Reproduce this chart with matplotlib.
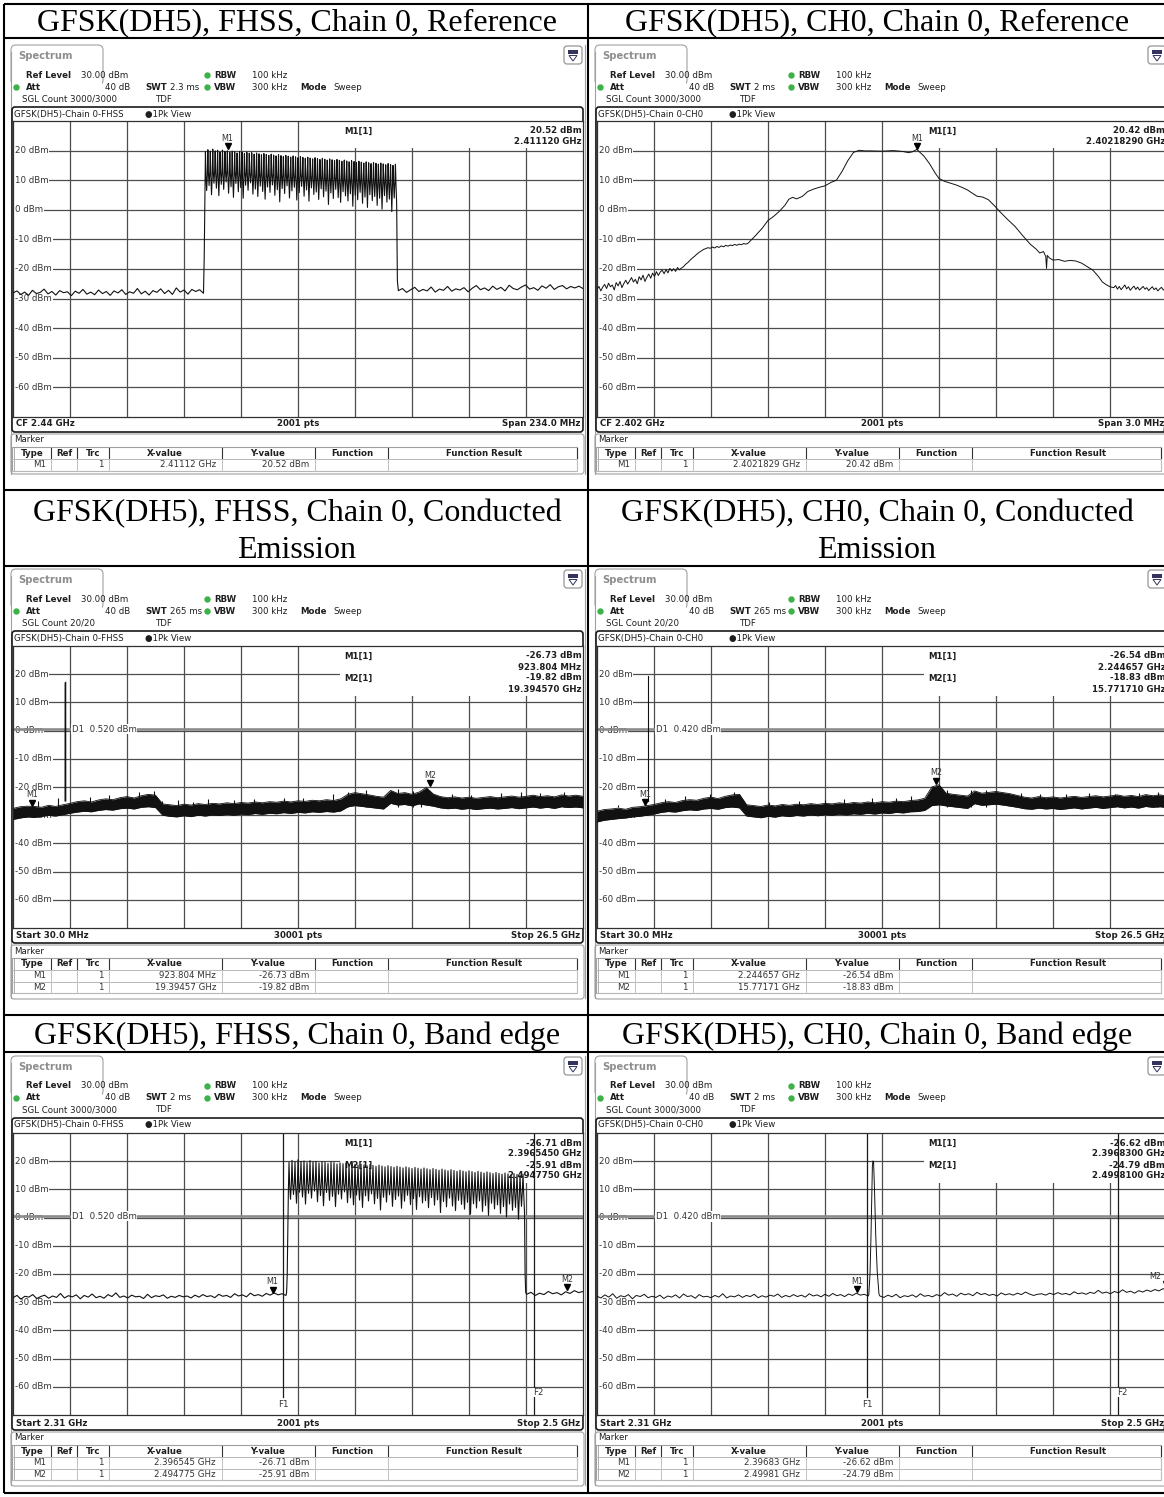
import numpy as np
import matplotlib
matplotlib.use("Agg")
import matplotlib.pyplot as plt
from matplotlib.patches import FancyBboxPatch, Rectangle, Polygon

# ------------------------------------------------------------------ data
row_titles = [
    [["GFSK(DH5), FHSS, Chain 0, Reference"], ["GFSK(DH5), CH0, Chain 0, Reference"]],
    [["GFSK(DH5), FHSS, Chain 0, Conducted", "Emission"],
     ["GFSK(DH5), CH0, Chain 0, Conducted", "Emission"]],
    [["GFSK(DH5), FHSS, Chain 0, Band edge"], ["GFSK(DH5), CH0, Chain 0, Band edge"]],
]
y_levels = [20, 10, 0, -10, -20, -30, -40, -50, -60]

# Bluetooth hopping channels (0..78) -> 2402 + k MHz
comb_channels = list(range(79))
comb_peak = [19.6, 20.3, 19.8, 20.5, 19.9, 20.1, 19.5, 20.2, 19.7, 19.9,
             19.4, 19.8, 19.6, 19.2, 19.7, 19.5, 19.0, 19.4, 19.1, 19.3,
             18.8, 19.2, 18.9, 18.6, 19.0, 18.7, 18.4, 18.8, 18.5, 18.2,
             18.6, 18.3, 18.0, 18.4, 18.1, 17.8, 18.2, 17.9, 17.6, 18.0,
             17.7, 17.4, 17.8, 17.5, 17.2, 17.6, 17.3, 17.0, 17.4, 17.1,
             16.8, 17.2, 16.9, 16.6, 17.0, 16.7, 16.4, 16.8, 16.5, 16.2,
             16.6, 16.3, 16.0, 16.4, 16.1, 15.8, 16.2, 15.9, 15.6, 16.0,
             15.7, 15.4, 15.8, 15.5, 15.2, 15.6, 15.3, 15.0, 15.4]
comb_trough = [6.5, 8.2, 5.1, 9.0, 7.3, 4.8, 8.6, 6.9, 9.4, 5.6,
               7.8, 4.2, 8.9, 6.1, 7.5, 3.9, 8.3, 6.6, 9.1, 5.3,
               7.0, 4.5, 8.0, 6.2, 3.6, 7.7, 5.9, 8.4, 4.9, 6.8,
               2.7, 7.2, 5.5, 8.1, 4.0, 6.4, 7.6, 3.3, 5.8, 7.9,
               4.6, 6.7, 2.9, 7.4, 5.2, 6.0, 3.5, 7.1, 4.4, 6.3,
               1.8, 5.7, 3.8, 6.9, 4.1, 2.5, 6.1, 4.7, 3.0, 5.4,
               1.2, 4.9, 3.4, 5.9, 2.2, 4.3, 0.8, 5.1, 3.1, 4.5,
               1.5, 3.9, 0.2, 4.8, 2.6, 3.6, -0.6, 4.0, 2.0]
# secondary in-channel dip level (the darker mass between ~10 and 20 dBm)
comb_mid = [11.8, 12.6, 11.2, 13.0, 12.1, 11.5, 12.8, 11.9, 13.2, 11.4,
            12.5, 11.0, 12.9, 11.7, 12.3, 10.8, 12.7, 11.6, 12.4, 11.1,
            12.0, 10.9, 12.2, 11.5, 10.6, 11.9, 11.3, 12.1, 10.7, 11.6,
            10.2, 11.8, 11.0, 12.0, 10.5, 11.4, 11.7, 10.3, 11.2, 11.9,
            10.6, 11.3, 10.0, 11.5, 10.8, 11.1, 10.1, 11.4, 10.4, 11.0,
            9.6, 10.9, 10.2, 11.2, 10.0, 9.5, 10.8, 10.1, 9.4, 10.5,
            9.1, 10.3, 9.6, 10.6, 9.2, 9.9, 8.8, 10.2, 9.3, 9.8,
            8.9, 9.6, 8.5, 9.9, 9.0, 9.4, 8.3, 9.5, 8.8]

# Panel 1: FHSS reference (GHz, dBm)
p1_noise_left = [-28.1, -27.4, -28.6, -27.8, -28.9, -27.2, -28.3, -27.9, -26.8, -28.4,
                 -27.6, -28.8, -27.3, -28.0, -27.7, -29.0, -27.5, -28.2, -26.9, -28.5,
                 -27.8, -28.7, -27.1, -28.3, -27.6, -28.9, -27.4, -28.1, -27.0, -28.6,
                 -27.7, -28.2, -26.6, -28.4, -27.5, -28.8, -27.3, -27.9, -26.7, -28.3,
                 -27.2, -28.6, -26.4, -27.8, -27.1, -28.5, -26.9, -27.6, -27.0, -28.2]
p1_noise_right = [-27.3, -26.6, -27.9, -27.0, -26.2, -27.6, -26.9, -27.4, -26.1, -27.8,
                  -26.8, -27.2, -25.9, -27.5, -26.7, -27.1, -26.3, -27.7, -26.5, -25.6,
                  -27.0, -26.4, -27.3, -25.8, -26.9, -26.2, -27.4, -25.5, -26.6, -27.0,
                  -26.1, -25.4, -26.8, -26.3, -27.2, -25.7, -26.5, -25.3, -26.9, -26.0,
                  -25.6, -26.7, -25.9, -26.4, -25.8, -26.6]
p1_rise_f, p1_rise_dbm = [2.4015, 2.4018], [-16.0, 6.0]
p1_fall_f, p1_fall_dbm = [2.4808], [-24.0]

# Panel 2: CH0 reference (MHz, dBm)
p2_noise_left = [-26.8, -25.9, -27.4, -26.1, -25.2, -26.6, -24.8, -26.0, -25.4, -27.1,
                 -24.6, -25.7, -24.2, -26.3, -24.9, -23.8, -25.1, -24.0, -22.9, -24.4,
                 -23.5, -25.0, -22.6, -23.7, -22.1, -24.2, -22.8, -21.7, -23.1, -21.4,
                 -22.5, -20.9, -22.2, -21.0, -20.4, -21.6, -20.2, -21.3, -19.8, -20.7,
                 -19.9, -20.8, -19.5, -20.3, -19.7]
p2_ramp = [-19.2, -18.4, -17.8, -17.0, -16.3, -15.7, -15.0, -14.4, -13.9, -13.4,
           -13.1, -12.8, -13.0, -12.6, -12.9, -12.4, -12.7, -12.2, -12.5, -12.0,
           -12.3, -11.9, -12.1, -11.7, -12.0, -11.6, -11.8, -11.4, -11.6, -11.3]
p2_lobe_mhz = [2401.31, 2401.33, 2401.37, 2401.40, 2401.43, 2401.46, 2401.49, 2401.51,
               2401.53, 2401.55, 2401.58, 2401.61, 2401.64, 2401.67, 2401.70, 2401.73,
               2401.76, 2401.79, 2401.82, 2401.85, 2401.88, 2401.91, 2401.94, 2402.00,
               2402.06, 2402.11, 2402.14, 2402.16, 2402.183, 2402.20, 2402.22, 2402.25,
               2402.28, 2402.30, 2402.33, 2402.36, 2402.39, 2402.42, 2402.45, 2402.48,
               2402.50, 2402.53, 2402.56, 2402.59, 2402.62, 2402.66, 2402.70, 2402.74,
               2402.78, 2402.81, 2402.83, 2402.85, 2402.862, 2402.866, 2402.87, 2402.88,
               2402.90, 2402.93, 2402.96, 2402.99, 2403.02, 2403.05, 2403.08, 2403.11,
               2403.14, 2403.16, 2403.18, 2403.20]
p2_lobe_dbm = [-10.3, -9.0, -6.2, -3.6, -2.2, -0.5, 1.6, 3.6, 4.2, 3.7, 4.5, 6.2, 7.0, 7.6,
               8.1, 9.2, 10.0, 13.0, 16.6, 19.4, 20.1, 19.9, 19.9, 19.8, 20.0, 19.7, 19.3,
               19.6, 20.4, 19.4, 18.2, 15.6, 12.4, 10.6, 9.6, 9.0, 8.4, 7.6, 6.7, 5.4, 4.6,
               4.3, 3.4, 1.5, -0.6, -3.2, -5.6, -8.7, -11.6, -13.2, -14.6, -14.1, -15.8,
               -19.8, -15.4, -16.2, -17.0, -16.8, -17.4, -17.1, -17.3, -18.0, -19.2, -20.4,
               -22.6, -24.4, -25.3, -26.0]
p2_noise_right = [-26.3, -25.6, -26.8, -25.9, -27.0, -26.2, -25.4, -26.7, -26.0, -27.2,
                  -26.4, -25.8, -26.9, -26.1, -27.1, -26.5, -25.9, -26.8, -26.3, -27.3,
                  -26.6, -26.0, -27.0, -26.4, -27.4, -26.7, -26.2, -27.1, -26.6, -27.3]

# Panel 3: FHSS conducted emission (GHz, dBm) - noise band envelopes
p3_upper = [-27.6, -27.0, -26.8, -26.9, -27.2, -26.5, -26.9, -26.3,
            -25.8,
            -25.2, -24.9, -25.3, -24.6, -24.2, -24.5, -23.8, -23.4, -23.9, -23.1, -22.6, -22.9,
            -26.0,
            -26.3, -26.6, -26.1, -26.4, -25.9, -26.2, -25.8, -26.0, -25.6, -25.9, -25.5, -25.7,
            -25.3, -25.6, -25.2, -25.4, -25.0, -25.3, -24.9, -25.1, -24.7, -24.9, -24.5, -24.8, -24.2,
            -22.6, -22.0, -22.4, -22.8, -23.3, -23.6,
            -21.2, -22.3, -22.0, -22.6, -21.8, -20.2,
            -22.5, -23.4, -23.8, -23.5, -23.9, -23.6, -24.0, -23.7, -23.4, -23.8, -23.5,
            -23.2, -23.6, -23.3, -22.9, -23.4, -23.1, -23.5, -22.8, -23.2, -22.9, -23.3]
p3_lower = [-31.5, -31.0, -30.6, -30.8, -30.4, -30.1, -30.3, -29.8,
            -29.3,
            -28.9, -28.6, -28.8, -28.3, -28.0, -28.2, -27.7, -27.5, -27.8, -27.2, -27.0, -27.3,
            -30.0,
            -30.4, -30.6, -30.2, -30.5, -30.0, -30.3, -29.9, -30.1, -29.7, -30.0, -29.6, -29.8,
            -29.4, -29.7, -29.3, -29.5, -29.1, -29.4, -29.0, -29.2, -28.8, -29.0, -28.7, -28.9, -28.5,
            -27.0, -26.6, -26.9, -27.2, -27.5, -27.8,
            -25.8, -26.4, -26.2, -26.7, -26.0, -26.4,
            -26.8, -27.4, -27.7, -27.5, -27.9, -27.6, -28.0, -27.7, -27.5, -27.8, -27.6,
            -27.3, -27.7, -27.4, -27.1, -27.5, -27.2, -27.6, -27.0, -27.3, -27.1, -27.4]
p3_spike_f = [1.2, 2.1, 3.6, 4.5, 5.9, 6.6, 6.95, 7.7, 8.4, 9.1, 10.3, 11.2, 12.6, 13.5,
              14.9, 15.6, 16.4, 17.9, 18.6, 19.0, 20.4, 21.3, 22.7, 23.6, 24.5, 25.6]
p3_spike_dbm = [-24.9, -24.0, -23.6, -22.9, -21.8, -21.3, -24.9, -24.6, -25.3, -24.4,
                -24.7, -24.2, -23.8, -23.9, -22.5, -21.6, -21.0, -20.6, -21.4, -21.8,
                -22.6, -22.9, -22.1, -21.9, -22.3, -21.8]
p3_hop_f = [2.398, 2.402, 2.480, 2.484]
p3_hop_dbm = [-25.0, 17.2, 17.6, -25.0]

# Panel 4: CH0 conducted emission
p4_upper = [-28.6, -28.0, -27.8, -27.5, -27.9, -27.2, -27.0, -26.6,
            -26.2,
            -25.6, -25.2, -25.5, -24.8, -24.5, -24.7, -24.0, -23.6, -24.1, -23.3, -22.8, -22.6,
            -26.3,
            -26.6, -26.9, -26.4, -26.7, -26.2, -26.5, -26.1, -26.3, -25.9, -26.2, -25.8, -26.0,
            -25.6, -25.9, -25.5, -25.7, -25.3, -25.6, -25.2, -25.4, -25.0, -25.2, -24.8, -24.6, -24.0,
            -20.0, -19.2, -22.2, -22.6, -22.9, -23.2,
            -21.4, -22.2, -21.9, -21.6, -22.0, -22.4,
            -23.0, -23.6, -23.9, -23.4, -23.8, -23.5, -23.9, -23.6, -23.3, -23.7, -23.4,
            -23.1, -23.5, -23.2, -22.8, -23.3, -23.0, -23.4, -22.7, -23.1, -22.8, -23.2]
p4_lower = [-32.4, -31.8, -31.5, -31.2, -31.0, -30.6, -30.4, -30.0,
            -29.6,
            -29.0, -28.7, -28.9, -28.4, -28.1, -28.3, -27.8, -27.6, -27.9, -27.3, -27.1, -27.4,
            -30.3,
            -30.6, -30.9, -30.4, -30.7, -30.2, -30.5, -30.1, -30.3, -29.9, -30.2, -29.8, -30.0,
            -29.6, -29.9, -29.5, -29.7, -29.3, -29.6, -29.2, -29.4, -29.0, -29.2, -28.8, -28.7, -28.3,
            -26.6, -26.3, -26.7, -27.0, -27.3, -27.6,
            -25.9, -26.5, -26.3, -26.1, -26.4, -26.8,
            -27.2, -27.7, -27.9, -27.5, -27.8, -27.6, -28.0, -27.7, -27.4, -27.8, -27.5,
            -27.2, -27.6, -27.3, -27.0, -27.4, -27.1, -27.5, -26.9, -27.2, -27.0, -27.3]
p4_spike_f = [1.0, 3.2, 4.1, 5.3, 6.4, 6.8, 8.0, 9.4, 10.6, 11.5, 12.8, 13.9, 14.6, 16.3,
              17.4, 18.1, 19.7, 20.6, 21.8, 22.9, 24.1, 25.2, 26.1]
p4_spike_dbm = [-26.5, -24.2, -23.3, -22.6, -21.9, -24.6, -25.4, -24.9, -24.5, -24.1,
                -24.0, -23.8, -23.3, -21.2, -21.0, -20.9, -22.0, -22.5, -22.4, -22.2,
                -22.6, -22.0, -21.9]
p4_carrier_f = 2.402
p4_carrier_dbm = 19.5

# Panel 5: FHSS band edge
p5_noise_left = [-28.4, -27.6, -28.9, -27.9, -28.2, -27.3, -28.7, -28.0, -27.5, -28.6,
                 -27.8, -28.3, -26.9, -28.5, -27.7, -28.1, -27.4, -28.8, -27.6, -28.2,
                 -27.1, -28.4, -27.9, -28.6, -27.3, -28.0, -26.7, -28.3, -27.8, -28.5,
                 -27.5, -28.1, -27.9, -28.7, -27.2, -28.4, -27.7, -28.0, -27.4, -28.6,
                 -27.9, -28.3, -27.6, -28.1, -27.8, -28.5, -27.5, -28.2, -27.3, -28.0,
                 -27.7, -28.4, -27.2, -27.9, -27.6, -28.3, -27.0, -27.8, -27.4, -28.1,
                 -26.8, -27.7, -27.3, -27.9, -26.9, -27.5, -26.7, -27.4, -27.0, -27.6]
p5_noise_right = [-27.2, -26.5, -27.6, -26.8, -27.3, -26.2, -27.0, -26.6, -27.4, -26.3,
                  -26.9, -25.9, -26.6, -26.2]
p5_rise_f, p5_rise_dbm = [2.4012, 2.4014, 2.4018], [-26.5, -20.5, 10.0]
p5_fall_f, p5_fall_dbm = [2.4807, 2.4809], [-20.0, -26.5]

# Panel 6: CH0 band edge
p6_noise_left = [-27.9, -28.5, -27.4, -28.2, -27.0, -28.6, -27.7, -28.1, -27.3, -28.8,
                 -27.6, -28.0, -27.2, -28.4, -27.9, -28.3, -27.5, -28.7, -27.8, -28.2,
                 -27.4, -28.5, -27.1, -28.0, -27.7, -28.6, -27.3, -28.1, -27.9, -28.4,
                 -27.6, -28.2, -27.0, -28.5, -27.8, -28.1, -27.4, -28.3, -27.6, -28.0,
                 -27.2, -28.4, -27.7, -28.2, -27.5, -27.9, -27.1, -28.3, -27.6, -28.1,
                 -27.3, -28.0, -27.5, -28.2, -27.0, -27.8, -27.4, -28.1, -27.2, -27.9,
                 -26.9, -27.7, -27.3, -28.0, -27.1, -27.6, -26.8, -27.5, -27.2, -27.8]
p6_spike_f = [2.4006, 2.4010, 2.4013, 2.4016, 2.4018, 2.4020, 2.4022, 2.4025, 2.4029, 2.4034, 2.4040]
p6_spike_dbm = [-27.4, -20.0, -8.0, 8.0, 18.5, 20.1, 19.5, 10.0, -6.0, -19.0, -27.2]
p6_noise_right = [-27.8, -28.3, -27.5, -28.1, -27.2, -28.4, -27.7, -28.0, -27.4, -28.2,
                  -27.0, -27.9, -27.6, -28.1, -27.3, -27.8, -26.6, -27.5, -27.1, -27.9,
                  -26.8, -27.4, -27.0, -27.7, -26.5, -27.3, -26.9, -27.6, -27.2, -27.8,
                  -26.7, -27.4, -27.0, -27.5, -26.8, -27.3, -26.4, -27.1, -27.6, -27.2,
                  -27.0, -27.5, -26.8, -27.3, -26.6, -27.2, -26.9, -27.4, -26.3, -27.0,
                  -26.7, -27.2, -26.5, -26.9, -25.8, -26.8, -26.4, -27.0, -26.2, -26.7,
                  -25.6, -26.5, -26.1, -26.8, -25.9, -26.4, -25.7, -26.2, -25.5, -26.0,
                  -25.2, -25.8]

# markers (x, dBm) and their text
p1_markers = [(2.41112, 20.52)]
p2_markers = [(2402.1829, 20.42)]
p3_markers = [(0.923804, -26.73), (19.39457, -19.82)]
p4_markers = [(2.244657, -26.54), (15.77171, -18.83)]
p5_markers = [(2.396545, -26.71), (2.494775, -25.91)]
p6_markers = [(2.39683, -26.62), (2.49981, -24.79)]
p1_info = [("20.52 dBm", "2.411120 GHz")]
p2_info = [("20.42 dBm", "2.40218290 GHz")]
p3_info = [("-26.73 dBm", "923.804 MHz"), ("-19.82 dBm", "19.394570 GHz")]
p4_info = [("-26.54 dBm", "2.244657 GHz"), ("-18.83 dBm", "15.771710 GHz")]
p5_info = [("-26.71 dBm", "2.3965450 GHz"), ("-25.91 dBm", "2.4947750 GHz")]
p6_info = [("-26.62 dBm", "2.3968300 GHz"), ("-24.79 dBm", "2.4998100 GHz")]
p1_table = [("M1", "2.41112 GHz", "20.52 dBm")]
p2_table = [("M1", "2.4021829 GHz", "20.42 dBm")]
p3_table = [("M1", "923.804 MHz", "-26.73 dBm"), ("M2", "19.39457 GHz", "-19.82 dBm")]
p4_table = [("M1", "2.244657 GHz", "-26.54 dBm"), ("M2", "15.77171 GHz", "-18.83 dBm")]
p5_table = [("M1", "2.396545 GHz", "-26.71 dBm"), ("M2", "2.494775 GHz", "-25.91 dBm")]
p6_table = [("M1", "2.39683 GHz", "-26.62 dBm"), ("M2", "2.49981 GHz", "-24.79 dBm")]
d1_levels = {"p3": 0.520, "p4": 0.420, "p5": 0.520, "p6": 0.420}
f_lines = [2.4, 2.4835]

# ------------------------------------------------------------------ figure
W, H = 1164, 1497
fig = plt.figure(figsize=(W / 100, H / 100), dpi=100)
bg = fig.add_axes([0, 0, 1, 1])
bg.set_xlim(0, W)
bg.set_ylim(H, 0)
bg.axis('off')

SANS = 'DejaVu Sans'
FS = 6.2
GRAY = '#a0a0a0'
GREEN = '#3db24a'
INK = '#1e1e1e'


def t(x, y, s, bold=False, ha='left', color=INK, fs=FS, z=5):
    bg.text(x, y, s, ha=ha, va='center', fontsize=fs, family=SANS,
            fontweight='bold' if bold else 'normal', color=color, zorder=z)


# table lines
TL = 1.5
for yy in [4, 38, 490, 566, 1015, 1052, 1493]:
    bg.plot([4, W], [yy, yy], color='black', lw=TL, solid_capstyle='butt', zorder=10)
for xx in [4, 588]:
    bg.plot([xx, xx], [4, 1493], color='black', lw=TL, solid_capstyle='butt', zorder=10)

title_line_y = [[23], [514, 550], [1036]]
for r in range(3):
    for c, cx in enumerate([297, 877]):
        for line, ty in zip(row_titles[r][c], title_line_y[r]):
            bg.text(cx, ty, line, ha='center', va='center',
                    fontsize=23, family='Liberation Serif', color='black', zorder=10)


def comb_trace(f0):
    fx, fy = [], []
    for k in comb_channels:
        fc = f0 + 0.001 * k
        fx += [fc, fc + 0.00022, fc + 0.0005, fc + 0.00078]
        fy += [comb_peak[k], comb_mid[k], comb_trough[k], comb_mid[k]]
    return fx[:-1], fy[:-1]


def draw_panel(x0, y0, compact, cfg):
    PW = 578
    gx0, gx1 = x0 + 5, x0 + 575
    if compact:
        gy0, gy1 = y0 + 80, y0 + 362
        lab_y, tb_bot, mk_top, mk_bot = y0 + 370, y0 + 377, y0 + 379, y0 + 433
    else:
        gy0, gy1 = y0 + 79, y0 + 375
        lab_y, tb_bot, mk_top, mk_bot = y0 + 382, y0 + 390, y0 + 392, y0 + 432
    GW, GH = gx1 - gx0, gy1 - gy0

    # outer frame + tab
    tab = FancyBboxPatch((x0 + 3, y0 + 3), 92, 40, boxstyle='round,pad=0,rounding_size=5',
                         fc='white', ec=GRAY, lw=0.8, zorder=1)
    bg.add_patch(tab)
    bg.add_patch(Rectangle((x0 + 3.6, y0 + 25), 90.8, 20, fc='white', ec='none', zorder=1.1))
    bg.plot([x0 + 3, x0 + 3], [y0 + 10, y0 + 432], color=GRAY, lw=0.8, zorder=1.2)
    bg.plot([x0 + PW - 1, x0 + PW - 1], [y0 + 3, y0 + 432], color=GRAY, lw=0.8, zorder=1.2)
    t(x0 + 10, y0 + 14, "Spectrum", bold=True, color='#8e8e8e', fs=7.2)
    # icon
    bg.add_patch(FancyBboxPatch((x0 + PW - 22, y0 + 4), 18, 18,
                                boxstyle='round,pad=0,rounding_size=3',
                                fc='white', ec='#8a8a8a', lw=0.8, zorder=2))
    bg.add_patch(Rectangle((x0 + PW - 18, y0 + 7.5), 10, 4, fc='#33335e', ec='none', zorder=3))
    bg.add_patch(Polygon([(x0 + PW - 17, y0 + 13.5), (x0 + PW - 9, y0 + 13.5),
                          (x0 + PW - 13, y0 + 19)], closed=True, fc='none',
                         ec='#33335e', lw=0.7, zorder=3))

    # header
    t(x0 + 18, y0 + 33, "Ref Level", bold=True)
    t(x0 + 73, y0 + 33, "30.00 dBm")
    bg.plot([x0 + 199], [y0 + 33], 'o', ms=3.6, color=GREEN, zorder=5)
    t(x0 + 206, y0 + 33, "RBW", bold=True)
    t(x0 + 244, y0 + 33, "100 kHz")
    bg.plot([x0 + 8], [y0 + 45], 'o', ms=3.6, color=GREEN, zorder=5)
    t(x0 + 18, y0 + 45, "Att", bold=True)
    t(x0 + 122, y0 + 45, "40 dB", ha='right')
    t(x0 + 137, y0 + 45, "SWT", bold=True)
    t(x0 + 162, y0 + 45, cfg['swt'])
    bg.plot([x0 + 199], [y0 + 45], 'o', ms=3.6, color=GREEN, zorder=5)
    t(x0 + 206, y0 + 45, "VBW", bold=True)
    t(x0 + 244, y0 + 45, "300 kHz")
    t(x0 + 292, y0 + 45, "Mode", bold=True)
    t(x0 + 325, y0 + 45, "Sweep")
    t(x0 + 14, y0 + 57, "SGL Count " + cfg['count'])
    t(x0 + 148, y0 + 57, "TDF")

    # trace box
    bg.add_patch(FancyBboxPatch((x0 + 4, y0 + 65), PW - 7, tb_bot - (y0 + 65),
                                boxstyle='round,pad=0,rounding_size=3',
                                fc='none', ec='#1a1a1a', lw=1.2, zorder=2))
    t(x0 + 6, y0 + 72, cfg['trace_title'])
    t(x0 + 137, y0 + 72, "\u25cf1Pk View")
    t(x0 + 8, lab_y, cfg['left_lab'], bold=True)
    t(x0 + 290, lab_y, cfg['pts'], bold=True, ha='center')
    t(x0 + 572, lab_y, cfg['right_lab'], bold=True, ha='right')

    # marker box + table
    bg.add_patch(FancyBboxPatch((x0 + 3, mk_top), PW - 5, mk_bot - mk_top,
                                boxstyle='round,pad=0,rounding_size=3',
                                fc='none', ec=GRAY, lw=0.8, zorder=2))
    t(x0 + 6, mk_top + 6, "Marker")
    th0 = mk_top + 13
    rh = 11.5
    rows = cfg['table']
    tb_end = th0 + 12 + rh * len(rows)
    cols = [4, 43, 69, 101, 214, 307, 380, 569]
    bg.add_patch(Rectangle((x0 + 4, th0), 565, tb_end - th0, fc='none', ec=GRAY, lw=0.8, zorder=3))
    bg.plot([x0 + 5.5, x0 + 5.5], [th0, tb_end], color=GRAY, lw=0.6, zorder=3)
    for i in range(len(rows) + 1):
        yy = th0 + 12 + rh * i
        bg.plot([x0 + 4, x0 + 569], [yy, yy], color='#b8b8b8', lw=0.7, zorder=3)
    for cx in cols[1:]:
        bg.plot([x0 + cx, x0 + cx], [th0 + 1, th0 + 11], color='#333333', lw=0.8, zorder=3)
        bg.plot([x0 + cx, x0 + cx], [th0 + 12, tb_end], color='#c0c0c0', lw=0.7, zorder=3)
    for hx, hs in zip([24, 56, 85, 157, 260, 344, 476],
                      ["Type", "Ref", "Trc", "X-value", "Y-value", "Function", "Function Result"]):
        t(x0 + hx, th0 + 6, hs, bold=True, ha='center')
    for i, (name, xv, yv) in enumerate(rows):
        yy = th0 + 12 + rh * i + rh / 2
        t(x0 + 38, yy, name, ha='right', color='#333333')
        t(x0 + 96, yy, "1", ha='right', color='#333333')
        t(x0 + 208, yy, xv, ha='right', color='#333333')
        t(x0 + 301, yy, yv, ha='right', color='#333333')

    # ----- grid axes
    xmin, xmax = cfg['xlim']
    ax = fig.add_axes([gx0 / W, 1 - gy1 / H, GW / W, GH / H])
    ax.set_xlim(xmin, xmax)
    ax.set_ylim(-70, 30)
    ax.set_xticks(np.linspace(xmin, xmax, 11)[1:-1])
    ax.set_yticks(y_levels)
    ax.set_axisbelow(True)
    ax.grid(True, color='#4d4d4d', lw=0.9)
    ax.tick_params(length=0, labelbottom=False, labelleft=False)
    for s in ax.spines.values():
        s.set_color('#303030')
        s.set_linewidth(0.9)
    ax.patch.set_facecolor('white')
    dbpx = 100.0 / GH  # dB per pixel
    xpx = (xmax - xmin) / GW

    for v in y_levels:
        ax.text(2.0 / GW, v, f"{v} dBm", transform=ax.get_yaxis_transform(),
                ha='left', va='center', fontsize=FS, family=SANS, color='#333333',
                bbox=dict(fc='white', ec='none', pad=0.6), zorder=2)

    # marker info field
    n_info = len(cfg['info'])
    box_h = 27 if n_info == 1 else 50
    ax.add_patch(Rectangle((0.574, 1 - box_h / GH), 0.426, box_h / GH, transform=ax.transAxes,
                           fc='white', ec='none', zorder=1.5))
    for i, (lv, fv) in enumerate(cfg['info']):
        y1 = 1 - (10 + 22 * i) / GH
        y2 = 1 - (21 + 22 * i) / GH
        ax.text(0.582, y1, f"M{i + 1}[1]", transform=ax.transAxes, ha='left', va='center',
                fontsize=FS, family=SANS, fontweight='bold', color=INK, zorder=1.6)
        ax.text(0.997, y1, lv, transform=ax.transAxes, ha='right', va='center',
                fontsize=FS, family=SANS, fontweight='bold', color=INK, zorder=1.6)
        ax.text(0.997, y2, fv, transform=ax.transAxes, ha='right', va='center',
                fontsize=FS, family=SANS, fontweight='bold', color=INK, zorder=1.6)

    # display line
    if cfg.get('d1') is not None:
        d1 = cfg['d1']
        ax.axhline(d1, color='#8c8c8c', lw=1.9, zorder=2.2)
        ax.text(0.103, d1, f"D1  {d1:.3f} dBm", transform=ax.get_yaxis_transform(),
                ha='left', va='center', fontsize=FS, family=SANS, color='#333333',
                bbox=dict(fc='white', ec='none', pad=0.5), zorder=2.3)

    # frequency lines
    if cfg.get('flines'):
        fa, fb = cfg['flines']
        ax.plot([fa, fa], [30, -63.5], color='#1a1a1a', lw=0.9, zorder=2.4)
        ax.text(fa, -66.2, "F1", ha='center', va='center', fontsize=FS, family=SANS,
                color='#333333', zorder=2.4)
        ax.axvline(fb, color='#1a1a1a', lw=0.9, zorder=2.4)
        ax.text(fb, -62.0, "F2", ha='left', va='center', fontsize=FS, family=SANS,
                color='#333333', bbox=dict(fc='white', ec='none', pad=0.3), zorder=2.45)

    # traces
    cfg['draw'](ax)

    # markers
    vis_right = xmin + (W - 3 - gx0) * xpx  # last visible data x in figure
    for i, (mx, my) in enumerate(cfg['markers']):
        ax.plot([mx], [my + 3.2 * dbpx], marker='v', ms=4.2, color='black', zorder=6, clip_on=False)
        lx, ha = mx, 'center'
        if mx + 6 * xpx > vis_right:
            lx, ha = vis_right, 'right'
        ax.text(lx, my + 11 * dbpx, f"M{i + 1}", ha=ha, va='center', fontsize=5.8,
                family=SANS, color='#333333', zorder=6)
    return ax


LW = 0.7
TRC = '#111111'


def draw_p1(ax):
    fl = np.linspace(2.323, 2.4012, len(p1_noise_left))
    fr = np.linspace(2.4812, 2.557, len(p1_noise_right))
    cx, cy = comb_trace(2.402)
    x = list(fl) + p1_rise_f + cx + p1_fall_f + list(fr)
    y = p1_noise_left + p1_rise_dbm + cy + p1_fall_dbm + p1_noise_right
    ax.plot(x, y, color=TRC, lw=0.8, zorder=3)


def draw_p2(ax):
    fl = np.linspace(2400.5, 2400.944, len(p2_noise_left))
    fm = np.linspace(2400.955, 2401.295, len(p2_ramp))
    fr = np.linspace(2403.22, 2403.5, len(p2_noise_right))
    x = list(fl) + list(fm) + p2_lobe_mhz + list(fr)
    y = p2_noise_left + p2_ramp + p2_lobe_dbm + p2_noise_right
    ax.plot(x, y, color=TRC, lw=LW, zorder=3)


def draw_ce(ax, upper, lower, sf, sd):
    f = np.linspace(0.03, 26.5, len(upper))
    ax.fill_between(f, lower, upper, color=TRC, lw=0, zorder=3)
    ax.plot(f, upper, color=TRC, lw=0.6, zorder=3)
    ax.plot(f, lower, color=TRC, lw=0.6, zorder=3)
    ax.vlines(sf, -27, sd, color=TRC, lw=0.8, zorder=3)


def draw_p3(ax):
    draw_ce(ax, p3_upper, p3_lower, p3_spike_f, p3_spike_dbm)
    ax.fill_between(p3_hop_f, -25, p3_hop_dbm, color=TRC, lw=0, zorder=3)


def draw_p4(ax):
    draw_ce(ax, p4_upper, p4_lower, p4_spike_f, p4_spike_dbm)
    ax.plot([p4_carrier_f, p4_carrier_f], [-25, p4_carrier_dbm], color=TRC, lw=0.8, zorder=3)


def draw_p5(ax):
    fl = np.linspace(2.31, 2.4010, len(p5_noise_left))
    fr = np.linspace(2.4812, 2.5, len(p5_noise_right))
    cx, cy = comb_trace(2.402)
    x = list(fl) + p5_rise_f + cx + p5_fall_f + list(fr)
    y = p5_noise_left + p5_rise_dbm + cy + p5_fall_dbm + p5_noise_right
    ax.plot(x, y, color=TRC, lw=0.8, zorder=3)


def draw_p6(ax):
    fl = np.linspace(2.31, 2.4004, len(p6_noise_left))
    fr = np.linspace(2.4043, 2.5, len(p6_noise_right))
    x = list(fl) + p6_spike_f + list(fr)
    y = p6_noise_left + p6_spike_dbm + p6_noise_right
    ax.plot(x, y, color=TRC, lw=LW, zorder=3)


panels = [
    dict(swt="2.3 ms", count="3000/3000", trace_title="GFSK(DH5)-Chain 0-FHSS",
         left_lab="CF 2.44 GHz", pts="2001 pts", right_lab="Span 234.0 MHz",
         xlim=(2.323, 2.557), info=p1_info, table=p1_table, markers=p1_markers, draw=draw_p1),
    dict(swt="2 ms", count="3000/3000", trace_title="GFSK(DH5)-Chain 0-CH0",
         left_lab="CF 2.402 GHz", pts="2001 pts", right_lab="Span 3.0 MHz",
         xlim=(2400.5, 2403.5), info=p2_info, table=p2_table, markers=p2_markers, draw=draw_p2),
    dict(swt="265 ms", count="20/20", trace_title="GFSK(DH5)-Chain 0-FHSS",
         left_lab="Start 30.0 MHz", pts="30001 pts", right_lab="Stop 26.5 GHz",
         xlim=(0.03, 26.5), info=p3_info, table=p3_table, markers=p3_markers, draw=draw_p3,
         d1=d1_levels["p3"]),
    dict(swt="265 ms", count="20/20", trace_title="GFSK(DH5)-Chain 0-CH0",
         left_lab="Start 30.0 MHz", pts="30001 pts", right_lab="Stop 26.5 GHz",
         xlim=(0.03, 26.5), info=p4_info, table=p4_table, markers=p4_markers, draw=draw_p4,
         d1=d1_levels["p4"]),
    dict(swt="2 ms", count="3000/3000", trace_title="GFSK(DH5)-Chain 0-FHSS",
         left_lab="Start 2.31 GHz", pts="2001 pts", right_lab="Stop 2.5 GHz",
         xlim=(2.31, 2.5), info=p5_info, table=p5_table, markers=p5_markers, draw=draw_p5,
         d1=d1_levels["p5"], flines=f_lines),
    dict(swt="2 ms", count="3000/3000", trace_title="GFSK(DH5)-Chain 0-CH0",
         left_lab="Start 2.31 GHz", pts="2001 pts", right_lab="Stop 2.5 GHz",
         xlim=(2.31, 2.5), info=p6_info, table=p6_table, markers=p6_markers, draw=draw_p6,
         d1=d1_levels["p6"], flines=f_lines),
]

panel_x = [8, 592]
panel_y = [42, 566, 1053]
for i, cfg in enumerate(panels):
    r, c = divmod(i, 2)
    draw_panel(panel_x[c], panel_y[r], r > 0, cfg)

fig.savefig("out.png", dpi=100, facecolor='white')
